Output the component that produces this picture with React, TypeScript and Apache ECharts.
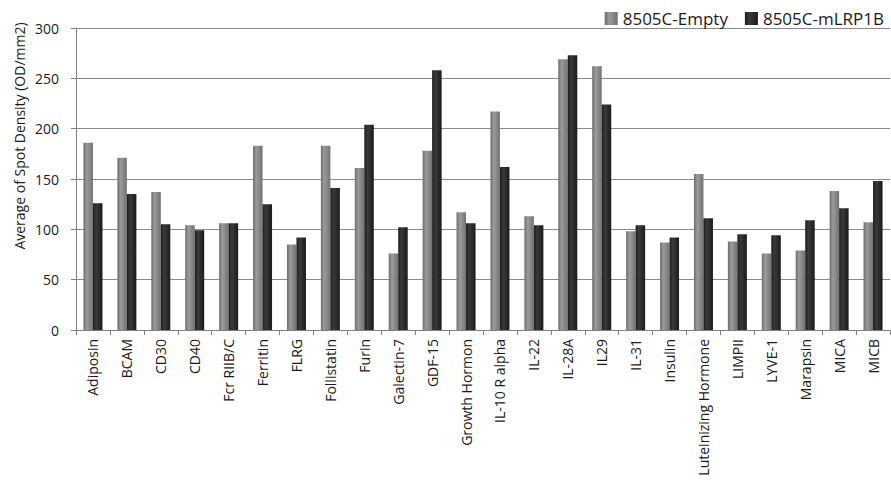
import React, { useEffect, useRef } from "react";
import * as echarts from "echarts";

const categories = [
  "Adiposin", "BCAM", "CD30", "CD40", "Fcr RIIB/C", "Ferritin", "FLRG",
  "Follistatin", "Furin", "Galectin-7", "GDF-15", "Growth Hormon",
  "IL-10 R alpha", "IL-22", "IL-28A", "IL29", "IL-31", "Insulin",
  "Luteinizing Hormone", "LIMPII", "LYVE-1", "Marapsin", "MICA", "MICB",
];

const emptyValues = [
  186, 171, 137, 104, 106, 183, 85, 183, 161, 76, 178, 117,
  217, 113, 269, 262, 98, 87, 155, 88, 76, 79, 138, 107,
];

const mlrpValues = [
  126, 135, 105, 99, 106, 125, 92, 141, 204, 102, 258, 106,
  162, 104, 273, 224, 104, 92, 111, 95, 94, 109, 121, 148,
];

const yMin = 0;
const yMax = 300;
const yStep = 50;

const FONT = "'Open Sans', 'Liberation Sans', sans-serif";
const TEXT = "#1a1a1a";

const grayFill = new echarts.graphic.LinearGradient(0, 0, 1, 0, [
  { offset: 0, color: "#6c6c6c" },
  { offset: 0.35, color: "#9b9b9b" },
  { offset: 1, color: "#727272" },
]);

const darkFill = new echarts.graphic.LinearGradient(0, 0, 1, 0, [
  { offset: 0, color: "#1d1d1d" },
  { offset: 0.35, color: "#3a3a3a" },
  { offset: 1, color: "#1b1b1b" },
]);

export default function App() {
  const ref = useRef<HTMLDivElement>(null);

  useEffect(() => {
    if (!ref.current) return;
    const chart = echarts.init(ref.current, null, { renderer: "svg" });
    chart.setOption({
      animation: false,
      backgroundColor: "#ffffff",
      textStyle: { fontFamily: FONT },
      grid: { left: 76, right: 1, top: 28, bottom: 154, containLabel: false },
      legend: {
        right: 2,
        top: 5,
        icon: "rect",
        itemWidth: 13,
        itemHeight: 13,
        itemGap: 17,
        textStyle: { fontSize: 17, color: TEXT, fontFamily: FONT },
        data: ["8505C-Empty", "8505C-mLRP1B"],
      },
      graphic: [
        {
          type: "text",
          x: 19,
          y: 136,
          rotation: Math.PI / 2,
          style: {
            text: "Average of Spot Density (OD/mm2)",
            fontSize: 14,
            fontFamily: FONT,
            fill: TEXT,
            align: "center",
            verticalAlign: "middle",
          },
        },
      ],
      xAxis: {
        type: "category",
        data: categories,
        boundaryGap: true,
        axisLine: { lineStyle: { color: "#808080", width: 1 } },
        axisTick: { show: true, length: 5, lineStyle: { color: "#808080" } },
        axisLabel: {
          interval: 0,
          rotate: 90,
          fontSize: 14,
          color: TEXT,
          margin: 9,
          fontFamily: FONT,
        },
        splitLine: { show: false },
      },
      yAxis: {
        type: "value",
        min: yMin,
        max: yMax,
        interval: yStep,
        axisLine: { show: true, lineStyle: { color: "#808080", width: 1 } },
        axisTick: { show: true, length: 5, lineStyle: { color: "#808080" } },
        axisLabel: { fontSize: 14, color: TEXT, margin: 17, fontFamily: FONT },
        splitLine: { show: true, lineStyle: { color: "#8a8a8a", width: 1 } },
      },
      series: [
        {
          name: "8505C-Empty",
          type: "bar",
          data: emptyValues,
          barWidth: 9.5,
          barGap: "0%",
          itemStyle: { color: grayFill },
        },
        {
          name: "8505C-mLRP1B",
          type: "bar",
          data: mlrpValues,
          barWidth: 9.5,
          barGap: "0%",
          itemStyle: { color: darkFill },
        },
      ],
    });
    return () => chart.dispose();
  }, []);

  return (
    <div
      ref={ref}
      style={{ position: "fixed", left: 0, top: 0, width: 891, height: 484 }}
    />
  );
}
